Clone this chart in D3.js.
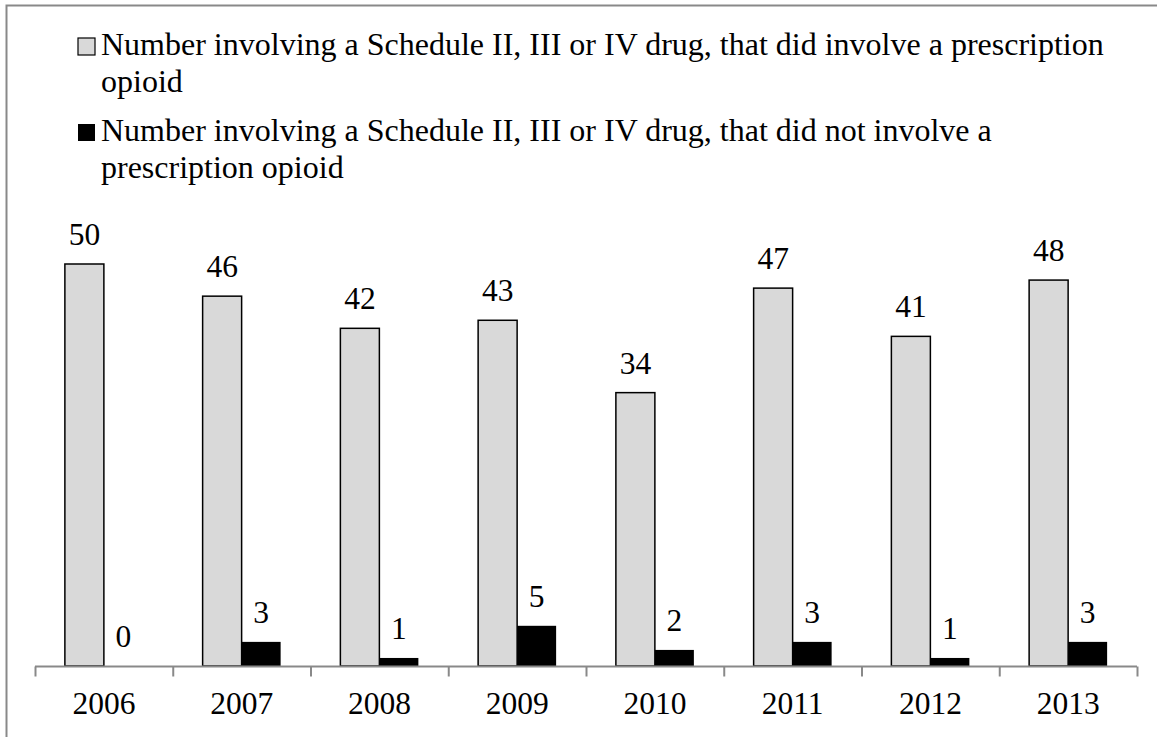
<!DOCTYPE html>
<html>
  <head>
    <script type="text/javascript" src="https://cdn.jsdelivr.net/npm/d3@7"></script>
    <style>
      body { margin: 0; background: #fff; }
      text { font-family: "Liberation Serif", "Times New Roman", serif; fill: #000; }
    </style>
  </head>
  <body>
    <script type="text/javascript">
      const years = ["2006", "2007", "2008", "2009", "2010", "2011", "2012", "2013"];
      const didInvolve = [50, 46, 42, 43, 34, 47, 41, 48];
      const didNotInvolve = [0, 3, 1, 5, 2, 3, 1, 3];
      const seriesNames = [
        "Number involving a Schedule II, III or IV drug, that did involve a prescription opioid",
        "Number involving a Schedule II, III or IV drug, that did not involve a prescription opioid"
      ];
      const seriesColors = ["#d9d9d9", "#000000"];

      const W = 1157, H = 737;
      const fontSize = 31.5;
      const legendFont = 32;

      const svg = d3.select("body").append("svg")
        .attr("width", W)
        .attr("height", H);

      // chart frame
      svg.append("rect")
        .attr("x", 6.5).attr("y", 5.5)
        .attr("width", W + 10).attr("height", H + 10)
        .attr("fill", "none")
        .attr("stroke", "#898989")
        .attr("stroke-width", 2);

      const x0 = d3.scaleBand().domain(years).range([35, 1137]);
      const x1 = d3.scaleBand().domain([0, 1]).range([0, 78]);
      const y = d3.scaleLinear().domain([0, 50]).range([666, 264]);

      const groupOffset = (x0.bandwidth() - 78) / 2;

      const data = years.map(function (yr, i) {
        return { year: yr, values: [didInvolve[i], didNotInvolve[i]] };
      });

      const groups = svg.selectAll("g.year")
        .data(data)
        .enter()
        .append("g")
        .attr("class", "year")
        .attr("transform", function (d) {
          return "translate(" + (x0(d.year) + groupOffset) + ",0)";
        });

      groups.selectAll("rect")
        .data(function (d) { return d.values; })
        .enter()
        .append("rect")
        .attr("x", function (d, i) { return x1(i); })
        .attr("y", function (d) { return y(d); })
        .attr("width", x1.bandwidth())
        .attr("height", function (d) { return 666 - y(d); })
        .attr("fill", function (d, i) { return seriesColors[i]; })
        .attr("stroke", function (d, i) { return i === 0 ? "#000" : "none"; })
        .attr("stroke-width", 1.5);

      groups.selectAll("text")
        .data(function (d) { return d.values; })
        .enter()
        .append("text")
        .attr("x", function (d, i) { return x1(i) + x1.bandwidth() / 2; })
        .attr("y", function (d) { return y(d) - 19; })
        .attr("text-anchor", "middle")
        .style("font-size", fontSize + "px")
        .text(function (d) { return d; });

      // x axis
      const xAxis = d3.axisBottom(x0).tickSize(0).tickPadding(0);
      const gx = svg.append("g")
        .attr("transform", "translate(0,666.5)")
        .call(xAxis);
      gx.select(".domain").remove();
      gx.append("line")
        .attr("x1", 35).attr("x2", 1137)
        .attr("stroke", "#898989").attr("stroke-width", 2);
      gx.selectAll(".sep")
        .data(years.concat(["end"]))
        .enter()
        .append("line")
        .attr("class", "sep")
        .attr("x1", function (d, i) { return 35.5 + i * x0.step(); })
        .attr("x2", function (d, i) { return 35.5 + i * x0.step(); })
        .attr("y1", 0).attr("y2", 10)
        .attr("stroke", "#898989").attr("stroke-width", 2);
      gx.selectAll(".tick text")
        .attr("y", 47)
        .attr("dy", 0)
        .style("font-size", fontSize + "px")
        .style("font-family", "'Liberation Serif', 'Times New Roman', serif")
        .attr("fill", "#000");

      // legend
      const legendTop = [55, 141];
      const lineGap = 37;
      const wrapWidth = 1020;
      seriesNames.forEach(function (name, i) {
        const lg = svg.append("g");
        lg.append("rect")
          .attr("x", 78).attr("y", legendTop[i] - 17)
          .attr("width", 17).attr("height", 17)
          .attr("fill", seriesColors[i])
          .attr("stroke", "#000")
          .attr("stroke-width", i === 0 ? 1.2 : 0);
        const t = lg.append("text")
          .attr("x", 101)
          .attr("y", legendTop[i])
          .style("font-size", legendFont + "px");
        const words = name.split(" ");
        let line = [];
        let tspan = t.append("tspan").attr("x", 101).attr("dy", 0);
        words.forEach(function (w) {
          line.push(w);
          tspan.text(line.join(" "));
          if (tspan.node().getComputedTextLength() > wrapWidth && line.length > 1) {
            line.pop();
            tspan.text(line.join(" "));
            line = [w];
            tspan = t.append("tspan").attr("x", 101).attr("dy", lineGap).text(w);
          }
        });
      });
    </script>
  </body>
</html>
